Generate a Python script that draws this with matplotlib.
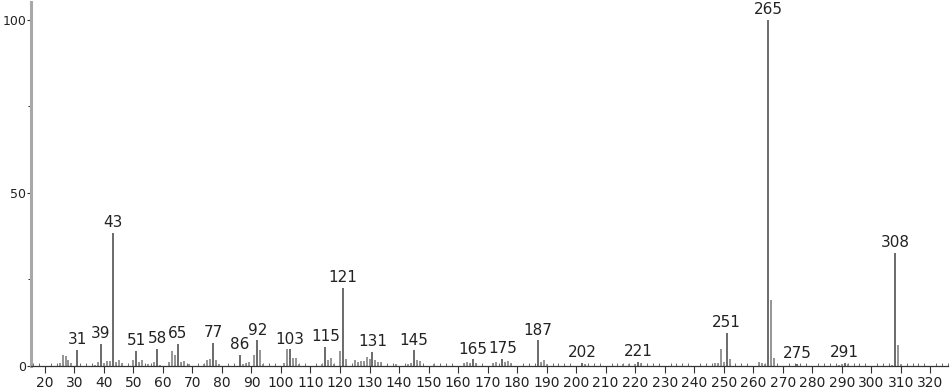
import numpy as np
import matplotlib.pyplot as plt
from matplotlib.ticker import MultipleLocator

# m/z and relative intensity (%)
mz = [25, 26, 27, 28, 29, 31, 37, 38, 39, 40, 41, 42, 43, 44, 45, 46,
      50, 51, 52, 53, 55, 57, 58, 59, 62, 63, 64, 65, 66, 67, 69,
      74, 75, 76, 77, 78, 79, 86, 87, 88, 89, 91, 92, 93, 94,
      101, 102, 103, 104, 105, 106, 114, 115, 116, 117, 118, 120, 121, 122,
      125, 126, 127, 128, 129, 130, 131, 132, 133, 134, 139, 143, 144,
      145, 146, 147, 152, 162, 163, 164, 165, 166, 172, 173, 175, 176,
      177, 178, 187, 188, 189, 190, 202, 203, 216, 218, 220, 221, 222,
      247, 248, 249, 250, 251, 252, 262, 263, 264, 265, 266, 267, 275,
      289, 290, 291, 292, 307, 308, 309, 310]
intensity = [1.0, 3.3, 2.9, 1.6, 0.9, 4.7, 0.4, 1.2, 6.3, 0.9, 1.5, 1.4, 38.4, 1.2, 1.6, 0.9,
             1.6, 4.3, 1.3, 1.8, 0.5, 1.2, 5.0, 0.4, 1.2, 4.2, 3.3, 6.5, 1.2, 1.4, 0.5,
             0.7, 1.6, 2.1, 6.7, 1.6, 0.7, 3.1, 0.7, 1.0, 1.2, 3.1, 7.4, 4.5, 0.5,
             1.0, 4.8, 4.8, 2.4, 2.2, 0.5, 0.5, 5.5, 1.6, 2.4, 0.5, 4.2, 22.6, 2.1,
             1.6, 1.2, 1.4, 1.4, 2.6, 1.9, 4.0, 1.8, 1.2, 1.2, 0.5, 0.5, 0.8,
             4.5, 1.6, 1.5, 0.5, 0.8, 1.2, 1.0, 1.9, 0.9, 1.0, 1.2, 2.1, 1.2,
             1.4, 1.0, 7.4, 1.3, 1.7, 0.6, 0.8, 0.5, 0.5, 0.5, 0.6, 1.3, 1.0,
             0.8, 0.9, 4.8, 1.3, 9.5, 2.0, 1.2, 1.0, 0.6, 100.0, 19.0, 2.3, 0.7,
             0.4, 0.5, 0.8, 0.5, 0.4, 32.7, 6.2, 0.6]
labeled = [31, 39, 43, 51, 58, 65, 77, 86, 92, 103, 115, 121, 131, 145,
           165, 175, 187, 202, 221, 251, 265, 275, 291, 308]


def main():
    fig = plt.figure(figsize=(9.51, 3.89), dpi=100)
    ax = fig.add_axes([31 / 951, 23 / 389, 917 / 951, 364 / 389])

    mz_arr = np.array(mz)
    inten = np.array(intensity)
    is_lab = np.isin(mz_arr, labeled)
    ax.vlines(mz_arr[~is_lab], 0, inten[~is_lab], color="#8c8c8c", lw=1.3)
    ax.vlines(mz_arr[is_lab], 0, inten[is_lab], color="#6a6a6a", lw=1.4)

    for m, v in zip(mz, intensity):
        if m in labeled:
            ax.annotate(str(m), (m, v), xytext=(0, 2), textcoords="offset points",
                        ha="center", va="bottom", fontsize=11, color="#222222")

    ax.set_xlim(15.3, 326)
    ax.set_ylim(0, 105.2)
    ax.xaxis.set_major_locator(MultipleLocator(10))
    ax.xaxis.set_minor_locator(MultipleLocator(2))
    ax.set_xticks(np.arange(20, 321, 10))
    ax.set_yticks([0, 50, 100])
    ax.yaxis.set_minor_locator(MultipleLocator(25))

    for s in ["top", "right"]:
        ax.spines[s].set_visible(False)
    ax.spines["left"].set_color("#a8a8a8")
    ax.spines["left"].set_linewidth(2.2)
    ax.spines["bottom"].set_color("#333333")
    ax.spines["bottom"].set_linewidth(0.9)

    ax.tick_params(axis="x", which="major", direction="out", length=5, width=0.8,
                   color="#333333", labelsize=10, pad=2, labelcolor="#222222")
    ax.tick_params(axis="x", which="minor", direction="in", length=2.5, width=0.6,
                   color="#555555")
    ax.tick_params(axis="y", which="major", direction="out", length=3, width=0.8,
                   color="#333333", labelsize=9, pad=0.3, labelcolor="#222222")
    ax.tick_params(axis="y", which="minor", direction="out", length=2, width=0.7,
                   color="#333333")

    fig.savefig("out.png", dpi=100)


if __name__ == '__main__':
    main()
